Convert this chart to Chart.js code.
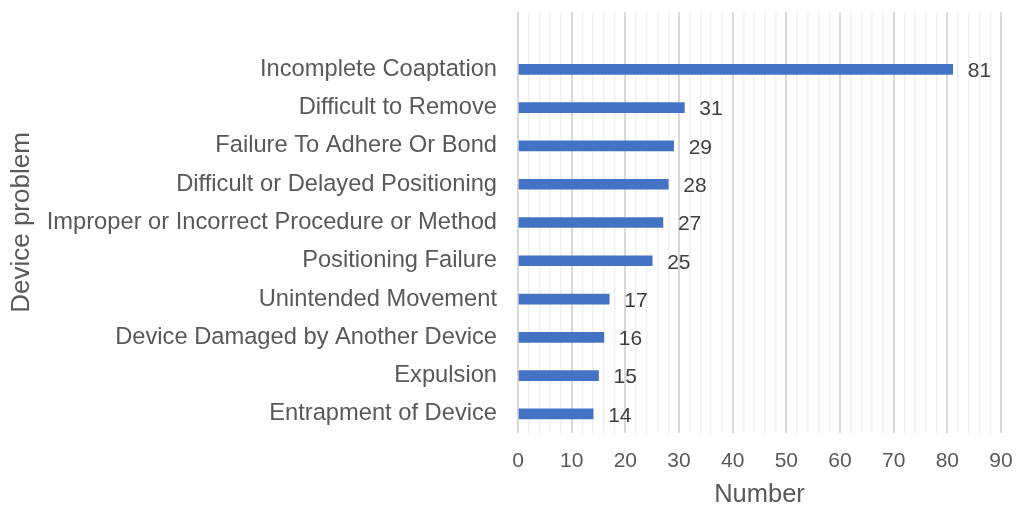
<!DOCTYPE html>
<html>
<head>
<meta charset="utf-8">
<script src="https://cdn.jsdelivr.net/npm/chart.js@4/dist/chart.umd.min.js"></script>
<style>
  html,body{margin:0;padding:0;background:#fff;}
  #wrap{width:1016px;height:510px;}
</style>
</head>
<body>
<div id="wrap"><canvas id="myChart"></canvas></div>
<script>
// device problems, top to bottom
let problems = ['Incomplete Coaptation','Difficult to Remove','Failure To Adhere Or Bond','Difficult or Delayed Positioning','Improper or Incorrect Procedure or Method','Positioning Failure','Unintended Movement','Device Damaged by Another Device','Expulsion','Entrapment of Device'];
let counts = [81,31,29,28,27,25,17,16,15,14];
let xTicks = [0,10,20,30,40,50,60,70,80,90];

// excel leaves one empty slot above the first bar
let labels = [''].concat(problems);
let values = [null].concat(counts);

const FONT = '"Liberation Sans", Arial, sans-serif';

const valueLabels = {
  id: 'valueLabels',
  afterDatasetsDraw(chart){
    const ctx = chart.ctx;
    const meta = chart.getDatasetMeta(0);
    ctx.save();
    ctx.font = '21px ' + FONT;
    ctx.fillStyle = '#404040';
    ctx.textBaseline = 'middle';
    meta.data.forEach((bar, i) => {
      if(values[i] == null) return;
      ctx.fillText(values[i], bar.x + 15, bar.y + 2);
    });
    ctx.restore();
  }
};

const ctx = document.getElementById('myChart').getContext('2d');
const myChart = new Chart(ctx, {
  type: 'bar',
  data: {
    labels: labels,
    datasets: [{
      data: values,
      backgroundColor: '#4472c4',
      barThickness: 10
    }]
  },
  options: {
    indexAxis: 'y',
    responsive: true,
    maintainAspectRatio: false,
    animation: false,
    layout: { padding: { top: 12, right: 15 } },
    plugins: { legend: { display: false }, tooltip: { enabled: false } },
    scales: {
      x: {
        min: 0, max: 90,
        ticks: {
          stepSize: 2,
          autoSkip: false,
          maxRotation: 0,
          color: '#595959',
          font: { size: 21, family: FONT },
          padding: 16,
          callback: v => xTicks.includes(v) ? v : ''
        },
        grid: {
          drawTicks: false,
          color: c => (c.tick && c.tick.value % 10 === 0) ? '#d9d9d9' : '#f0f0f0',
          lineWidth: c => (c.tick && c.tick.value % 10 === 0) ? 2 : 1.5
        },
        border: { display: false },
        title: {
          display: true,
          text: 'Number',
          color: '#595959',
          font: { size: 25.5, family: FONT },
          padding: { top: 4, bottom: 0 }
        },
        afterFit: s => { s.height = 77; s.paddingLeft = 0; s.paddingRight = 0; }
      },
      y: {
        grid: { display: false, drawTicks: false },
        border: { display: false },
        ticks: {
          color: '#595959',
          font: { size: 23.7, family: FONT },
          padding: 21
        },
        title: {
          display: true,
          text: 'Device problem',
          color: '#595959',
          font: { size: 26, family: FONT },
          padding: { top: 6, bottom: 0 }
        },
        afterFit: s => { s.width = 518; s.paddingTop = 0; s.paddingBottom = 0; }
      }
    }
  },
  plugins: [valueLabels]
});
</script>
</body>
</html>
